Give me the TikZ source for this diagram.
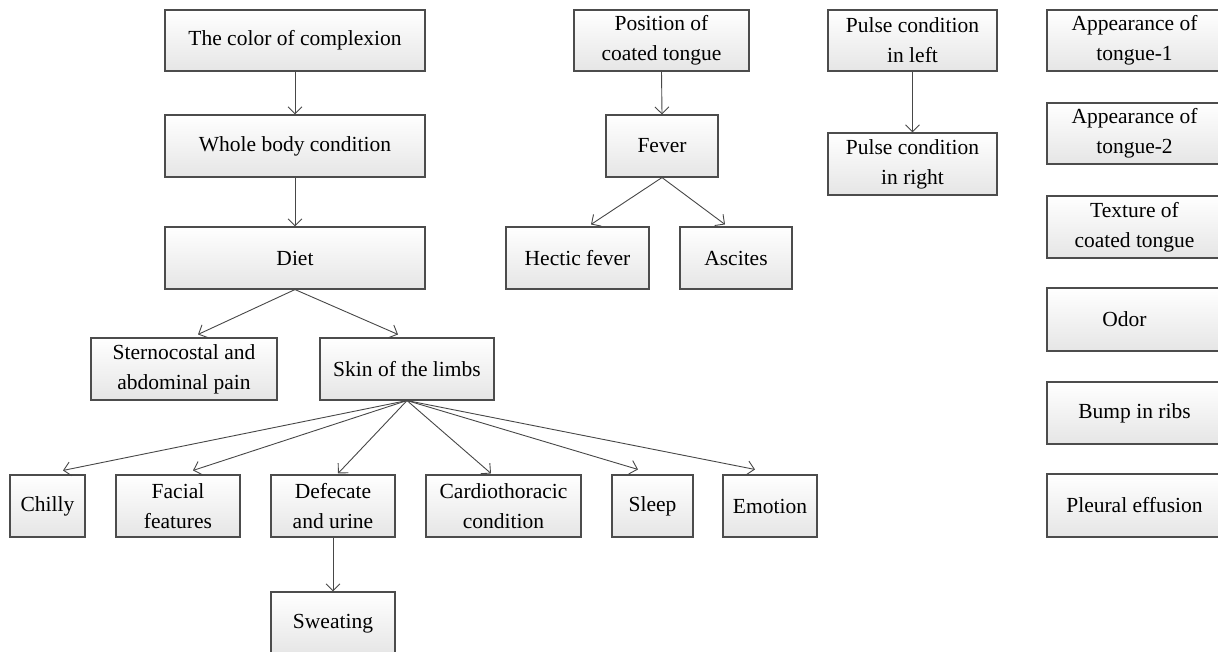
\documentclass[tikz,border=0pt]{standalone}
\usepackage{fontspec}
\setmainfont{Liberation Serif}
\usetikzlibrary{arrows.meta}
\tikzset{
  box/.style={draw=black!70, line width=1.1pt, top color=white, middle color=white, bottom color=black!10,
    inner sep=0pt, align=center, font=\fontsize{21.5}{30}\selectfont, text=black},
  arr/.style={draw=black!72, line width=0.9pt, -{Straight Barb[length=7pt,width=14pt]}}
}
\begin{document}
\begin{tikzpicture}[x=1pt,y=-1pt]
\useasboundingbox (0,0) rectangle (1218,651);
% left tree
\node[box, minimum width=260pt, minimum height=61pt] (color) at (295,40.5) {The color of complexion};
\node[box, minimum width=260pt, minimum height=62pt] (whole) at (295,146) {Whole body condition};
\node[box, minimum width=260pt, minimum height=62pt] (diet) at (295,258) {Diet};
\node[box, minimum width=186pt, minimum height=62pt] (stern) at (184,369) {Sternocostal and\\abdominal pain};
\node[box, minimum width=174pt, minimum height=62pt] (skin) at (407,369) {Skin of the limbs};
\node[box, minimum width=75pt, minimum height=62pt] (chilly) at (47.5,506) {Chilly};
\node[box, minimum width=124pt, minimum height=62pt] (facial) at (178,506) {Facial\\features};
\node[box, minimum width=124pt, minimum height=62pt] (defec) at (333,506) {Defecate\\and urine};
\node[box, minimum width=155pt, minimum height=62pt] (cardio) at (503.5,506) {Cardiothoracic\\condition};
\node[box, minimum width=81pt, minimum height=62pt] (sleep) at (652.5,506) {Sleep};
\node[box, minimum width=94pt, minimum height=62pt] (emotion) at (770,506) {Emotion};
\node[box, minimum width=124pt, minimum height=63pt] (sweat) at (333,623.5) {Sweating};
% middle tree
\node[box, minimum width=175pt, minimum height=61pt] (pos) at (661.5,40.5) {Position of\\coated tongue};
\node[box, minimum width=112pt, minimum height=62pt] (fever) at (662,146) {Fever};
\node[box, minimum width=143pt, minimum height=62pt] (hectic) at (577.5,258) {Hectic fever};
\node[box, minimum width=112pt, minimum height=62pt] (ascites) at (736,258) {Ascites};
% pulse
\node[box, minimum width=169pt, minimum height=61pt] (pulsel) at (912.5,40.5) {Pulse condition\\in left};
\node[box, minimum width=169pt, minimum height=62pt] (pulser) at (912.5,164) {Pulse condition\\in right};
% right column
\node[box, minimum width=175pt, minimum height=61pt] (app1) at (1134.5,40.5) {Appearance of\\tongue-1};
\node[box, minimum width=175pt, minimum height=61pt] (app2) at (1134.5,133.5) {Appearance of\\tongue-2};
\node[box, minimum width=175pt, minimum height=62pt] (texture) at (1134.5,227) {Texture of\\coated tongue};
\node[box, minimum width=175pt, minimum height=63pt] (odor) at (1134.5,319.5) {Odor\hspace*{20pt}};
\node[box, minimum width=175pt, minimum height=62pt] (bump) at (1134.5,413) {Bump in ribs};
\node[box, minimum width=175pt, minimum height=63pt] (pleural) at (1134.5,505.5) {Pleural effusion};
% connectors
\draw[arr] (color.south) -- (whole.north);
\draw[arr] (whole.south) -- (diet.north);
\draw[arr] (diet.south) -- ([xshift=14pt,yshift=3pt]stern.north);
\draw[arr] (diet.south) -- ([xshift=-9pt,yshift=3pt]skin.north);
\draw[arr] (skin.south) -- ([xshift=15.5pt,yshift=4pt]chilly.north);
\draw[arr] (skin.south) -- ([xshift=15pt,yshift=4pt]facial.north);
\draw[arr] (skin.south) -- ([xshift=5pt,yshift=1pt]defec.north);
\draw[arr] (skin.south) -- ([xshift=-12.5pt,yshift=1pt]cardio.north);
\draw[arr] (skin.south) -- ([xshift=-14.5pt,yshift=5pt]sleep.north);
\draw[arr] (skin.south) -- ([xshift=-15pt,yshift=5pt]emotion.north);
\draw[arr] (defec.south) -- (sweat.north);
\draw[arr] (pos.south) -- (fever.north);
\draw[arr] (fever.south) -- ([xshift=13.5pt,yshift=2pt]hectic.north);
\draw[arr] (fever.south) -- ([xshift=-11pt,yshift=2pt]ascites.north);
\draw[arr] (pulsel.south) -- (pulser.north);
\end{tikzpicture}
\end{document}
